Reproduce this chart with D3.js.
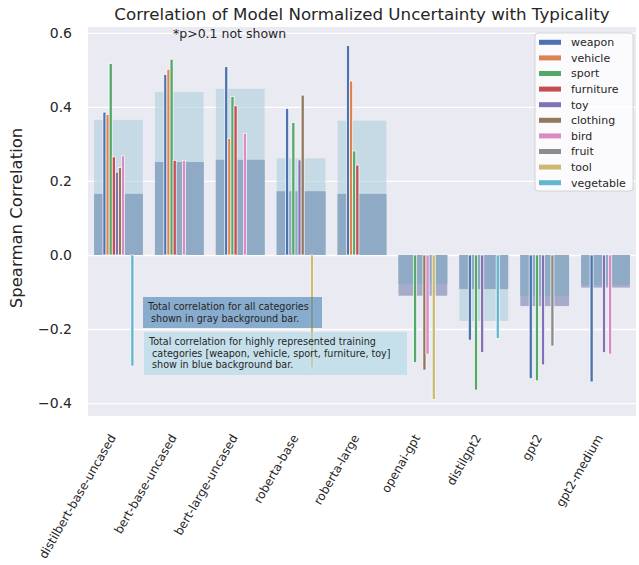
<!DOCTYPE html>
<meta charset="utf-8">
<style>
body { margin: 0; padding: 0; background: #fff; }
text { font-family: "DejaVu Sans", sans-serif; fill: #262626; }
</style>
<svg width="639" height="565"></svg>
<script src="https://d3js.org/d3.v7.min.js"></script>
<script>

// models on the x axis
var models = ["distilbert-base-uncased", "bert-base-uncased", "bert-large-uncased",
  "roberta-base", "roberta-large", "openai-gpt", "distilgpt2", "gpt2", "gpt2-medium"];

// background bars: total correlation for all categories / highly represented ones
var totalAll  = [0.165, 0.251, 0.257, 0.172, 0.165, -0.110, -0.092, -0.138, -0.088];
var totalHigh = [0.365, 0.440, 0.449, 0.261, 0.363, -0.078, -0.178, -0.111, -0.081];

// per-category correlations, null = p>0.1 (not shown)
var categories = ["weapon", "vehicle", "sport", "furniture", "toy", "clothing", "bird", "fruit", "tool", "vegetable"];
var weapon    = [0.386, 0.488, 0.509, 0.396, 0.566, null, -0.230, -0.334, -0.343];
var vehicle   = [0.380, 0.502, 0.315, null, 0.470, null, null, null, null];
var sport     = [0.517, 0.529, 0.428, 0.358, 0.281, -0.291, -0.365, -0.340, null];
var furniture = [0.265, 0.256, 0.403, null, 0.243, null, null, null, null];
var toy       = [0.224, null, null, 0.257, null, null, -0.264, -0.297, -0.264];
var clothing  = [0.236, null, null, 0.432, null, -0.311, null, null, null];
var bird      = [0.268, 0.256, 0.329, null, null, -0.268, null, null, -0.268];
var fruit     = [null, null, null, null, null, null, null, -0.246, null];
var tool      = [null, null, null, -0.305, null, -0.390, null, null, null];
var vegetable = [-0.300, null, null, null, null, null, -0.225, null, null];

var yTicks = [-0.4, -0.2, 0.0, 0.2, 0.4, 0.6];

var series = [weapon, vehicle, sport, furniture, toy, clothing, bird, fruit, tool, vegetable];
var palette = ["#4c72b0", "#dd8452", "#55a868", "#c44e52", "#8172b3",
               "#937860", "#da8bc3", "#8c8c8c", "#ccb974", "#64b5cd"];

var svg = d3.select("svg"),
    margin = {top: 27, right: 3, bottom: 149, left: 88},
    width = +svg.attr("width") - margin.left - margin.right,
    height = +svg.attr("height") - margin.top - margin.bottom,
    g = svg.append("g").attr("transform", "translate(" + margin.left + "," + margin.top + ")");

var x0 = d3.scaleBand().domain(models).range([0, width]).paddingInner(0.2).paddingOuter(0.1);
var x1 = d3.scaleBand().domain(categories).range([-15.5, 15.5]);
var y = d3.scaleLinear().domain([-0.435, 0.616]).range([height, 0]);
var color = d3.scaleOrdinal().domain(categories).range(palette);

g.append("rect")
    .attr("width", width)
    .attr("height", height)
    .attr("fill", "#eaeaf2");

g.append("g")
    .call(d3.axisLeft(y).tickValues(yTicks).tickSize(-width).tickFormat(""))
    .call(function(a) {
      a.select(".domain").remove();
      a.selectAll("line").attr("stroke", "#fff").attr("stroke-width", 1.3);
    });

var bg = models.map(function(m, i) { return {model: m, all: totalAll[i], high: totalHigh[i]}; });

// gray bar: all categories
g.selectAll(".all")
  .data(bg)
  .enter().append("rect")
    .attr("x", function(d) { return x0(d.model); })
    .attr("width", x0.bandwidth())
    .attr("y", function(d) { return y(Math.max(0, d.all)); })
    .attr("height", function(d) { return Math.abs(y(d.all) - y(0)); })
    .attr("fill", "#a5abc9");

// blue bar: highly represented categories
g.selectAll(".high")
  .data(bg)
  .enter().append("rect")
    .attr("x", function(d) { return x0(d.model); })
    .attr("width", x0.bandwidth())
    .attr("y", function(d) { return y(Math.max(0, d.high)); })
    .attr("height", function(d) { return Math.abs(y(d.high) - y(0)); })
    .attr("fill", "#acceda")
    .attr("fill-opacity", 0.6);

// where both overlap
g.selectAll(".both")
  .data(bg)
  .enter().append("rect")
    .attr("x", function(d) { return x0(d.model); })
    .attr("width", x0.bandwidth())
    .attr("y", function(d) {
      var v = Math.sign(d.all) * Math.min(Math.abs(d.all), Math.abs(d.high));
      return y(Math.max(0, v));
    })
    .attr("height", function(d) {
      var v = Math.sign(d.all) * Math.min(Math.abs(d.all), Math.abs(d.high));
      return Math.abs(y(v) - y(0));
    })
    .attr("fill", "#8eaac5");

// thin category bars
g.append("g")
  .selectAll("g")
  .data(models)
  .enter().append("g")
    .attr("transform", function(d) { return "translate(" + (x0(d) + x0.bandwidth() / 2) + ",0)"; })
  .selectAll("rect")
  .data(function(d, i) {
    return categories.map(function(c, k) { return {key: c, value: series[k][i]}; })
      .filter(function(e) { return e.value !== null; });
  })
  .enter().append("rect")
    .attr("x", function(d) { return x1(d.key); })
    .attr("width", x1.bandwidth())
    .attr("y", function(d) { return y(Math.max(0, d.value)); })
    .attr("height", function(d) { return Math.abs(y(d.value) - y(0)); })
    .attr("fill", function(d) { return color(d.key); })
    .attr("stroke", "#fff")
    .attr("stroke-width", 0.7);

// y axis labels
g.append("g")
    .call(d3.axisLeft(y).tickValues(yTicks).tickSize(0).tickPadding(16)
      .tickFormat(function(d) { return d3.format(".1f")(d).replace("-", "\u2212"); }))
    .call(function(a) {
      a.select(".domain").remove();
      a.selectAll("text").attr("font-size", 14).attr("font-family", "DejaVu Sans").attr("fill", "#262626");
    });

// x axis labels
g.append("g")
  .selectAll("text")
  .data(models)
  .enter().append("text")
    .attr("transform", function(d) {
      return "translate(" + (x0(d) + x0.bandwidth() / 2 - 10) + "," + (height + 17) + ") rotate(-60)";
    })
    .attr("text-anchor", "end")
    .attr("dy", "0.75em")
    .attr("font-size", 12)
    .text(function(d) { return d; });

svg.append("text")
    .attr("transform", "translate(22," + (margin.top + y(0.1)) + ") rotate(-90)")
    .attr("text-anchor", "middle")
    .attr("font-size", 16.5)
    .text("Spearman Correlation");

svg.append("text")
    .attr("x", margin.left + width / 2)
    .attr("y", 20)
    .attr("text-anchor", "middle")
    .attr("font-size", 16.7)
    .text("Correlation of Model Normalized Uncertainty with Typicality");

g.append("text")
    .attr("x", 85)
    .attr("y", 11)
    .attr("font-size", 12.5)
    .text("*p>0.1 not shown");

// note boxes
var notes = [
  {fill: "steelblue", x: 55, y: 270, w: 179, h: 31,
   lines: ["Total correlation for all categories", " shown in gray background bar."]},
  {fill: "lightblue", x: 56, y: 305, w: 263, h: 43,
   lines: ["Total correlation for highly represented training",
           " categories [weapon, vehicle, sport, furniture, toy]",
           " show in blue background bar."]}
];
var note = g.selectAll(".note")
  .data(notes)
  .enter().append("g")
    .attr("transform", function(d) { return "translate(" + d.x + "," + d.y + ")"; });
note.append("rect")
    .attr("width", function(d) { return d.w; })
    .attr("height", function(d) { return d.h; })
    .attr("fill", function(d) { return d.fill; })
    .attr("fill-opacity", 0.6);
note.append("text")
    .attr("font-size", 9.6)
    .attr("xml:space", "preserve")
    .selectAll("tspan")
    .data(function(d) { return d.lines; })
    .enter().append("tspan")
      .attr("x", 5)
      .attr("y", function(d, i) { return 13 + i * 11.7; })
      .text(function(d) { return d; });

// legend
var legend = g.append("g").attr("transform", "translate(447,6)");
legend.append("rect")
    .attr("width", 98)
    .attr("height", 158)
    .attr("rx", 3)
    .attr("fill", "#fff")
    .attr("fill-opacity", 0.8)
    .attr("stroke", "#cccccc")
    .attr("stroke-width", 0.8);
var item = legend.selectAll(".item")
  .data(categories)
  .enter().append("g")
    .attr("transform", function(d, i) { return "translate(0," + (9.3 + i * 15.6) + ")"; });
item.append("rect")
    .attr("x", 4)
    .attr("y", -2.5)
    .attr("width", 22)
    .attr("height", 5)
    .attr("fill", color);
item.append("text")
    .attr("x", 36)
    .attr("dy", "0.35em")
    .attr("font-size", 11)
    .text(function(d) { return d; });

</script>
